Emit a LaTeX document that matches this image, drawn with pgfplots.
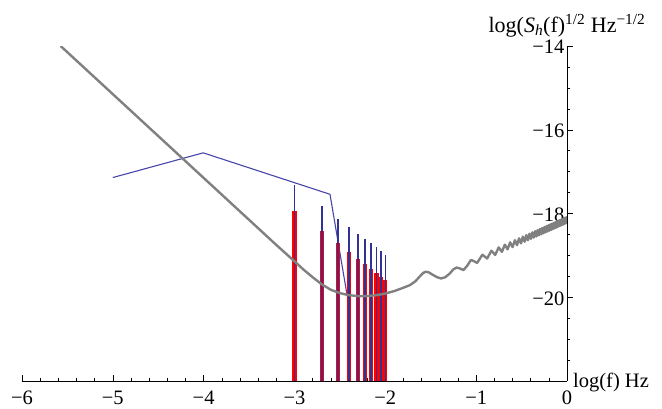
\documentclass[border=0pt]{standalone}
\usepackage{fontspec}
\setmainfont{Liberation Serif}
\usepackage{pgfplots}
\pgfplotsset{compat=1.18}
\definecolor{curvegray}{RGB}{128,128,128}
\definecolor{lineblue}{RGB}{70,70,170}
\definecolor{barblue}{RGB}{50,50,150}
\newcommand{\lblfont}{\fontsize{20.5}{24}\selectfont}

\begin{document}
\begin{tikzpicture}
\begin{axis}[
  scale only axis, width=545pt, height=335pt,
  xmin=-6, xmax=0, ymin=-22, ymax=-14,
  axis x line=bottom, axis y line=right,
  axis line style={-, line width=0.8pt, black},
  xtick={-6,-5,-4,-3,-2,-1,0},
  xticklabels={−6,−5,−4,−3,−2,−1,0},
  minor x tick num=4,
  ytick={-20,-18,-16,-14},
  yticklabels={−20,−18,−16,−14},
  minor ytick={-21.5,-21,-20.5,-19.5,-19,-18.5,-17.5,-17,-16.5,-15.5,-15,-14.5},
  tick align=inside,
  major tick length=6pt, minor tick length=3.5pt,
  tick style={black, line width=0.6pt},
  major y tick style={xshift=6pt}, minor y tick style={xshift=3.5pt},
  ticklabel style={font=\lblfont},
  xticklabel style={anchor=north, yshift=-6pt},
  yticklabel style={anchor=east, xshift=1pt, yshift=-1pt},
  xlabel={log(f) Hz},
  ylabel={log(\textit{S}\textsubscript{\textit{h}}(f)\textsuperscript{1/2} Hz\textsuperscript{−1/2}},
  every axis x label/.style={at={(rel axis cs:1,0)}, anchor=base west, inner sep=0pt, xshift=6pt, yshift=-6pt, font=\lblfont},
  every axis y label/.style={at={(rel axis cs:1,1)}, anchor=base, inner sep=0pt, yshift=14pt, font=\fontsize{22}{26}\selectfont},
  clip mode=individual,
  unbounded coords=jump,
]
% blue envelope line
\addplot[lineblue, line width=1.1pt] coordinates {
(-5,-17.14) (-4.005,-16.55) (-2.609,-17.54) (-2.42,-19.96) };

% red bars
\addplot[red, line width=4.2pt] coordinates {
(-3,-22) (-3,-17.93) (-3,nan)
(-2.699,-22) (-2.699,-18.42) (-2.699,nan)
(-2.523,-22) (-2.523,-18.71) (-2.523,nan)
(-2.398,-22) (-2.398,-18.92) (-2.398,nan)
(-2.301,-22) (-2.301,-19.08) (-2.301,nan)
(-2.222,-22) (-2.222,-19.21) (-2.222,nan)
(-2.155,-22) (-2.155,-19.33) (-2.155,nan)
(-2.097,-22) (-2.097,-19.43) (-2.097,nan)
(-2.046,-22) (-2.046,-19.51) (-2.046,nan)
(-2.0,-22) (-2.0,-19.59) };

% blue bars
\addplot[barblue, line width=1.6pt] coordinates {
(-3,-22) (-3,-17.31) (-3,nan)
(-2.699,-22) (-2.699,-17.81) (-2.699,nan)
(-2.523,-22) (-2.523,-18.12) (-2.523,nan)
(-2.398,-22) (-2.398,-18.32) (-2.398,nan)
(-2.301,-22) (-2.301,-18.48) (-2.301,nan)
(-2.222,-22) (-2.222,-18.60) (-2.222,nan)
(-2.155,-22) (-2.155,-18.71) (-2.155,nan)
(-2.097,-22) (-2.097,-18.81) (-2.097,nan)
(-2.046,-22) (-2.046,-18.90) (-2.046,nan)
(-2.0,-22) (-2.0,-18.98) };

% sensitivity curve
\addplot[curvegray, line width=2.4pt, line join=round] coordinates {
(-5.574,-14.0) (-3.2,-18.75) (-3.0,-19.14) (-2.9,-19.34) (-2.8,-19.52) (-2.7,-19.69)
(-2.6,-19.82) (-2.5,-19.90) (-2.4,-19.95) (-2.3,-19.97) (-2.2,-19.97) (-2.1,-19.95)
(-2.0,-19.91) (-1.9,-19.85) (-1.8,-19.77) (-1.73,-19.71) (-1.67,-19.62) (-1.62,-19.50)
(-1.585,-19.42) (-1.556,-19.39) (-1.525,-19.40) (-1.48,-19.46) (-1.43,-19.52) (-1.385,-19.55)
(-1.34,-19.52) (-1.29,-19.43) (-1.25,-19.33) (-1.215,-19.29) (-1.18,-19.31) (-1.14,-19.35)
(-1.10,-19.25) (-1.058,-19.11) (-1.03,-19.13) (-0.99,-19.18) (-0.96,-19.08)
(-0.9311,-18.983) (-0.8789,-19.073) (-0.8324,-18.887) (-0.7904,-18.987) (-0.7520,-18.809)
(-0.7168,-18.915) (-0.6842,-18.744) (-0.6539,-18.854) (-0.6256,-18.687) (-0.5990,-18.801)
(-0.5740,-18.637) (-0.5503,-18.754) (-0.5278,-18.592) (-0.5065,-18.711) (-0.4861,-18.552)
(-0.4667,-18.673) (-0.4481,-18.515) (-0.4302,-18.637) (-0.4131,-18.481) (-0.3966,-18.605)
(-0.3807,-18.449) (-0.3654,-18.574) (-0.3506,-18.420) (-0.3363,-18.546) (-0.3224,-18.393)
(-0.3090,-18.520) (-0.2959,-18.367) (-0.2833,-18.495) (-0.2710,-18.343) (-0.2590,-18.471)
(-0.2474,-18.320) (-0.2361,-18.449) (-0.2251,-18.298) (-0.2143,-18.428) (-0.2038,-18.278)
(-0.1935,-18.408) (-0.1835,-18.258) (-0.1737,-18.389) (-0.1641,-18.239) (-0.1547,-18.370)
(-0.1456,-18.221) (-0.1366,-18.353) (-0.1278,-18.204) (-0.1192,-18.336) (-0.1107,-18.187)
(-0.1024,-18.319) (-0.0943,-18.172) (-0.0863,-18.304) (-0.0784,-18.156) (-0.0707,-18.289)
(-0.0631,-18.141) (-0.0557,-18.274) (-0.0484,-18.127) (-0.0412,-18.260) (-0.0341,-18.113)
(-0.0271,-18.246) (-0.0203,-18.100) (-0.0135,-18.233) (-0.0069,-18.087) (0,-18.15) };

\coordinate (bbsw) at (axis cs:-6.242,-22.645);
\coordinate (bbne) at (axis cs:1.046,-12.90);
\end{axis}
\pgfresetboundingbox
\path (bbsw) rectangle (bbne);
\end{tikzpicture}
\end{document}
